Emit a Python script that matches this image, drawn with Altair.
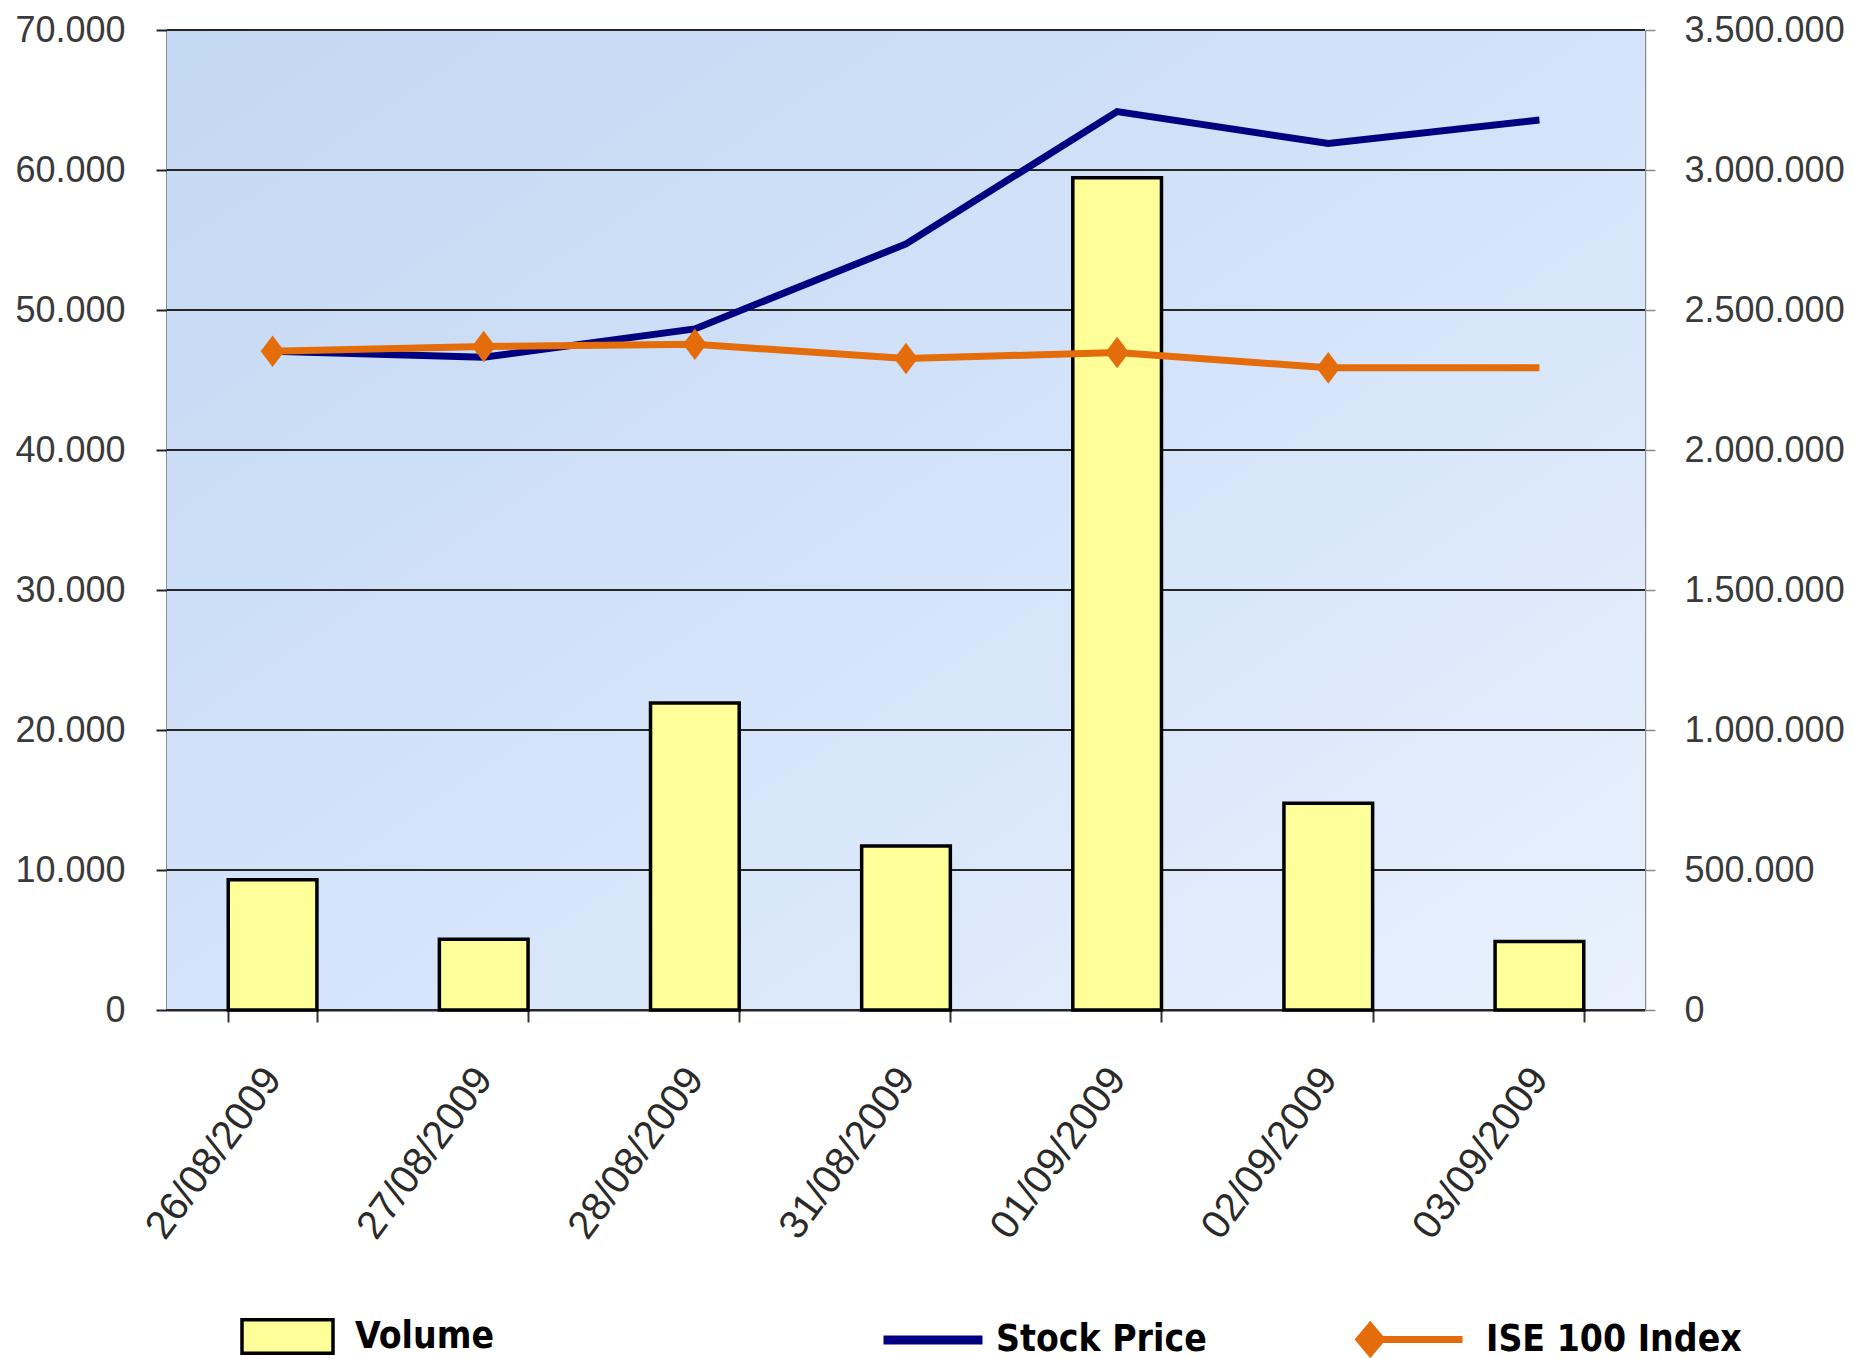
import altair as alt
import pandas as pd

# ---- data ----
dates = ["26/08/2009", "27/08/2009", "28/08/2009", "31/08/2009",
         "01/09/2009", "02/09/2009", "03/09/2009"]
volume = [465000, 253000, 1096000, 586000, 2972000, 738000, 245000]
stock_price = [47050, 46630, 48650, 54720, 64170, 61890, 63570]
ise100 = [47050, 47390, 47550, 46540, 46960, 45870, 45870]
ise_marker = [True, True, True, True, True, True, False]

left_ticks = [0, 10000, 20000, 30000, 40000, 50000, 60000, 70000]
right_ticks = [0, 500000, 1000000, 1500000, 2000000, 2500000, 3000000, 3500000]

series_names = ["Volume", "Stock Price", "ISE 100 Index"]

df = pd.DataFrame({"date": dates, "volume": volume, "stock": stock_price,
                   "ise": ise100, "marker": ise_marker})
grid_df = pd.DataFrame({"v": left_ticks})
bg_df = pd.DataFrame({"a": [0]})

W, H = 1478, 980
TICK_FONT = "Liberation Sans, Arial, sans-serif"
LEG_FONT = "Liberation Sans Narrow, DejaVu Sans Condensed, sans-serif"
DOT_FMT = "replace(format(datum.value, ','), regexp(',', 'g'), '.')"

NAVY = "#000080"
ORANGE = "#E46C0A"
YELLOW = "#FFFF99"

x = alt.X("date:N", sort=dates,
          scale=alt.Scale(paddingInner=0.58, paddingOuter=0.29),
          axis=alt.Axis(title=None, labelAngle=-54, labelAlign="right",
                        labelBaseline="middle", labelFontSize=40,
                        labelFont=TICK_FONT, labelColor="#2a2a2a",
                        labelLimit=500,
                        labelPadding=50, tickBand="extent", tickSize=12,
                        tickColor="#333333", tickWidth=2,
                        domainColor="#222222", domainWidth=2, grid=False))

left_domain = alt.Scale(domain=[0, 70000], nice=False, zero=True)


def leg(lx, ly, **kw):
    return alt.Legend(title=None, orient="none", legendX=lx, legendY=ly,
                      padding=0, labelFont=LEG_FONT, labelFontSize=37,
                      labelFontWeight="bold", labelColor="black",
                      labelLimit=600, **kw)


bg = alt.Chart(bg_df).mark_rect(
    color=alt.LinearGradient(
        gradient="linear",
        stops=[alt.GradientStop(color="#C3D8F2", offset=0),
               alt.GradientStop(color="#D3E3F9", offset=0.5),
               alt.GradientStop(color="#E9F1FD", offset=1)],
        x1=0, y1=0, x2=1, y2=1)
).encode(x=alt.value(0), x2=alt.value(W), y=alt.value(0), y2=alt.value(H))

grid = alt.Chart(grid_df).mark_rule(color="#262626", strokeWidth=2).encode(
    y=alt.Y("v:Q", scale=left_domain, axis=None),
    x=alt.value(0), x2=alt.value(W))

bars = alt.Chart(df).transform_calculate(
    series="'" + series_names[0] + "'"
).mark_bar(stroke="black", strokeWidth=3.5).encode(
    x=x,
    y=alt.Y("volume:Q", scale=alt.Scale(domain=[0, 3500000], nice=False),
            axis=alt.Axis(orient="right", title=None, values=right_ticks,
                          labelExpr=DOT_FMT, labelFont=TICK_FONT,
                          labelFontSize=36, labelColor="#3a3a3a",
                          labelPadding=29, tickSize=10, tickColor="#8a8a8a",
                          tickWidth=1.5, domainColor="#8a8a8a",
                          domainWidth=1.5, grid=False)),
    fill=alt.Fill("series:N",
                  scale=alt.Scale(domain=[series_names[0]], range=[YELLOW]),
                  legend=leg(73, 1259,
                             symbolType="M-1,-0.37L1,-0.37L1,0.37L-1,0.37Z",
                             symbolSize=8281, symbolStrokeColor="black",
                             symbolStrokeWidth=3.5, symbolFillColor=YELLOW,
                             labelOffset=20)),
)

stock = alt.Chart(df).transform_calculate(
    series="'" + series_names[1] + "'"
).mark_line(strokeWidth=7).encode(
    x=x,
    y=alt.Y("stock:Q", scale=left_domain,
            axis=alt.Axis(orient="left", title=None, values=left_ticks,
                          labelExpr=DOT_FMT, labelFont=TICK_FONT,
                          labelFontSize=36, labelColor="#3a3a3a",
                          labelPadding=31, tickSize=11, tickColor="#222222",
                          tickWidth=2, domainColor="#222222",
                          domainWidth=2, grid=False)),
    stroke=alt.Stroke("series:N",
                      scale=alt.Scale(domain=[series_names[1]], range=[NAVY]),
                      legend=leg(712, 1256, symbolType="stroke",
                                 symbolSize=9801, symbolStrokeWidth=9,
                                 labelOffset=9)),
)

ise_line = alt.Chart(df).transform_calculate(
    series="'" + series_names[2] + "'"
).mark_line(strokeWidth=7).encode(
    x=x,
    y=alt.Y("ise:Q", scale=left_domain, axis=None),
    stroke=alt.Stroke("series:N",
                      scale=alt.Scale(domain=[series_names[2]], range=[ORANGE]),
                      legend=leg(1186, 1253,
                                 symbolType="M-0.74,0L1,0M-0.74,-0.25L-0.53,0L-0.74,0.25L-0.95,0Z",
                                 symbolSize=11236, symbolStrokeWidth=7,
                                 symbolFillColor=ORANGE, labelOffset=20)),
)

ise_pts = alt.Chart(df).transform_filter("datum.marker").mark_point(
    shape="M0,-1L0.75,0L0,1L-0.75,0Z", filled=True, size=1000,
    color=ORANGE, opacity=1, strokeWidth=0
).encode(
    x=x,
    y=alt.Y("ise:Q", scale=left_domain, axis=None),
)

chart = alt.layer(bg, grid, bars, stock, ise_line, ise_pts).resolve_scale(
    y="independent", stroke="independent", fill="independent"
).properties(
    width=W, height=H,
    autosize=alt.AutoSizeParams(type="none"),
    padding={"left": 159, "top": 22, "right": 200, "bottom": 352},
    background="white",
).configure_view(strokeWidth=0)

chart.save("out.html", embed_options={"renderer": "svg", "actions": False})
